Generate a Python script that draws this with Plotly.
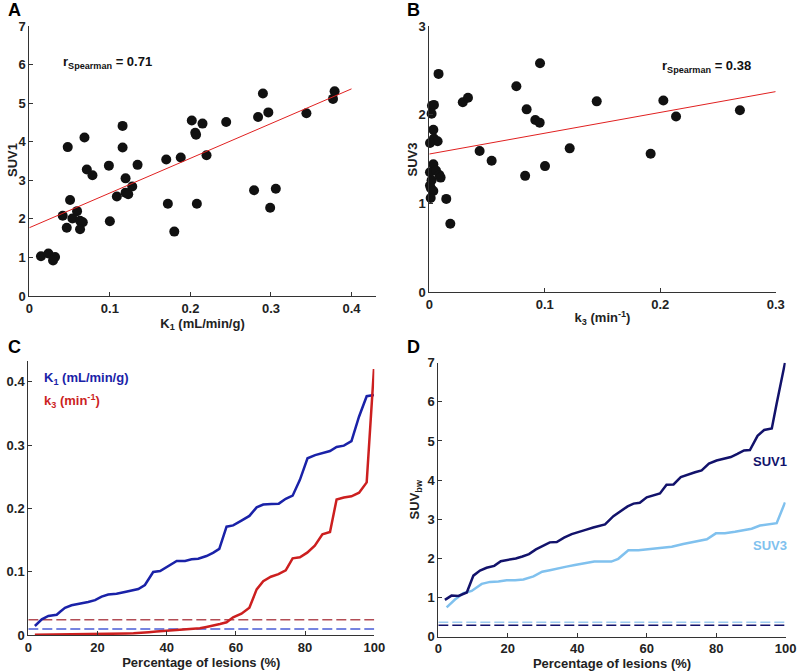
import plotly.graph_objects as go
from plotly.subplots import make_subplots

# --- A: K1 vs SUV1 ---
a_k1 = [0.0145, 0.0237, 0.032, 0.0295, 0.0415, 0.0465, 0.0477, 0.0506, 0.0535, 0.0593,
        0.063, 0.0664, 0.063, 0.0685, 0.0714, 0.0784, 0.0988, 0.100, 0.1087, 0.1158,
        0.1158, 0.1195, 0.1195, 0.1228, 0.1278, 0.1344, 0.170, 0.172, 0.180, 0.188,
        0.2017, 0.206, 0.207, 0.208, 0.215, 0.220, 0.2444, 0.279, 0.284, 0.290,
        0.2967, 0.299, 0.306, 0.344, 0.377, 0.379]
a_suv1 = [1.03, 1.10, 1.01, 0.92, 2.08, 1.77, 3.86, 2.49, 2.01, 2.20,
          1.95, 1.91, 1.73, 4.11, 3.28, 3.13, 3.38, 1.94, 2.58, 4.41,
          3.85, 3.05, 2.68, 2.64, 2.84, 3.40, 3.54, 2.39, 1.67, 3.59,
          4.55, 4.23, 4.18, 2.39, 4.47, 3.65, 4.51, 2.74, 4.64, 5.25,
          4.76, 2.29, 2.78, 4.74, 5.11, 5.31]
a_fit_x = [0, 0.4]
a_fit_y = [1.77, 5.37]

# --- B: k3 vs SUV3 ---
b_k3 = [0.008, 0.0959, 0.0754, 0.029, 0.0335, 0.0023, 0.004, 0.002, 0.0035, 0.004,
        0.0072, 0.0006, 0.0843, 0.0918, 0.0956, 0.145, 0.2027, 0.2137, 0.269, 0.0436,
        0.054, 0.1216, 0.1917, 0.1002, 0.083, 0.0035, 0.0006, 0.0058, 0.002, 0.0087,
        0.0098, 0.0006, 0.0014, 0.0035, 0.0012, 0.0147, 0.0182]
b_suv3 = [2.46, 2.58, 2.32, 2.14, 2.19, 2.10, 2.11, 2.01, 1.83, 1.73,
          1.70, 1.68, 2.06, 1.94, 1.91, 2.15, 2.16, 1.98, 2.05, 1.59,
          1.48, 1.62, 1.56, 1.42, 1.31, 1.44, 1.35, 1.37, 1.26, 1.32,
          1.29, 1.20, 1.17, 1.14, 1.06, 1.05, 0.77]
b_fit_x = [0, 0.3]
b_fit_y = [1.556, 2.26]

# --- C: sorted kinetic parameters ---
c_k1_pct = [1.9, 3.9, 5.8, 8.2, 9.2, 10.6, 12.5, 14.9, 17.3, 19.3, 21.2, 23.1, 25.5, 27.9,
            29.9, 31.8, 33.7, 36.1, 38.1, 40.5, 42.9, 45.3, 47.2, 49.1, 51.5, 53.5, 55.2,
            57.3, 59.2, 61.6, 63.9, 66.0, 67.9, 70.3, 72.4, 74.4, 76.4, 78.5, 80.7, 82.9,
            85.1, 87.2, 89.1, 91.2, 93.4, 95.6, 97.8, 99.9]
c_k1 = [0.0142, 0.0247, 0.030, 0.032, 0.0368, 0.043, 0.047, 0.049, 0.052, 0.055, 0.0605,
        0.064, 0.065, 0.068, 0.070, 0.0726, 0.079, 0.0995, 0.101, 0.109, 0.117, 0.117,
        0.1195, 0.1205, 0.1247, 0.130, 0.136, 0.171, 0.173, 0.1805, 0.188, 0.2016, 0.206,
        0.207, 0.2074, 0.215, 0.220, 0.245, 0.279, 0.284, 0.287, 0.2905, 0.297, 0.299,
        0.306, 0.345, 0.377, 0.379]
c_k3_pct = [1.9, 4.3, 6.5, 8.7, 10.9, 13.0, 15.2, 17.4, 19.6, 21.7, 23.9, 26.1, 28.3, 30.4,
            32.6, 34.8, 37.0, 39.1, 41.3, 43.5, 45.7, 47.8, 49.6, 51.5, 53.5, 55.4, 57.3,
            59.2, 61.6, 63.9, 66.0, 67.9, 70.1, 72.3, 74.4, 76.4, 78.5, 80.6, 82.8, 85.0,
            87.2, 89.1, 91.2, 93.4, 95.6, 97.8, 99.9]
c_k3 = [0.0002, 0.0003, 0.0004, 0.0005, 0.0007, 0.0009, 0.001, 0.0012, 0.0014, 0.0016,
        0.0018, 0.002, 0.0023, 0.0026, 0.003, 0.0045, 0.0055, 0.0063, 0.0068, 0.0072,
        0.008, 0.0092, 0.0105, 0.0126, 0.0147, 0.0174, 0.020, 0.028, 0.0337, 0.043,
        0.072, 0.085, 0.092, 0.096, 0.102, 0.121, 0.1226, 0.130, 0.141, 0.159, 0.1626,
        0.214, 0.217, 0.219, 0.2247, 0.241, 0.420]
c_k1_limit = 0.0095
c_k3_limit = 0.0242

# --- D: sorted SUVs ---
d_suv1_pct = [1.9, 3.8, 5.8, 8.2, 10.1, 12.0, 13.9, 16.1, 18.0, 20.2, 22.3, 24.2, 26.1, 28.1,
              30.2, 32.1, 34.1, 36.2, 38.4, 40.3, 42.4, 44.6, 46.5, 48.0, 50.4, 52.5, 54.5,
              56.2, 58.0, 60.0, 61.9, 63.8, 65.7, 67.7, 69.8, 72.0, 73.9, 75.8, 77.9, 80.1,
              82.2, 84.2, 86.1, 88.0, 89.7, 91.9, 93.8, 96.0, 97.4, 99.8]
d_suv1 = [0.94, 1.05, 1.04, 1.13, 1.56, 1.69, 1.76, 1.81, 1.93, 1.96, 2.00, 2.05, 2.11,
          2.23, 2.32, 2.41, 2.42, 2.53, 2.62, 2.68, 2.73, 2.79, 2.84, 2.87, 3.08, 3.22,
          3.33, 3.40, 3.42, 3.56, 3.61, 3.66, 3.88, 3.89, 4.08, 4.15, 4.20, 4.25, 4.42,
          4.50, 4.54, 4.59, 4.67, 4.76, 4.77, 5.13, 5.28, 5.32, 5.96, 7.0]
d_suv3_pct = [2.4, 4.8, 7.2, 9.6, 12.5, 14.9, 17.3, 19.7, 22.1, 24.5, 27.4, 29.9, 32.1, 34.5,
              36.9, 39.3, 42.2, 44.9, 47.5, 49.8, 51.8, 54.7, 57.6, 60.5, 63.8, 67.2, 70.5,
              73.9, 77.3, 79.9, 82.5, 85.4, 87.8, 90.2, 92.6, 95.0, 97.4, 99.8]
d_suv3 = [0.75, 0.95, 1.11, 1.17, 1.35, 1.40, 1.41, 1.44, 1.44, 1.46, 1.54, 1.66, 1.70,
          1.75, 1.79, 1.83, 1.87, 1.92, 1.92, 1.92, 1.99, 2.21, 2.21, 2.24, 2.27, 2.30,
          2.37, 2.43, 2.49, 2.64, 2.64, 2.68, 2.72, 2.76, 2.84, 2.87, 2.90, 3.43]
d_suv1_limit = 0.29
d_suv3_limit = 0.37

FONT = "Liberation Sans, Arial, sans-serif"
BLUE = "#1a22a8"
RED = "#cc1f1f"
NAVY = "#12126b"
LIGHT = "#80c1ee"

fig = make_subplots(rows=2, cols=2)

# A
fig.add_trace(go.Scatter(x=a_k1, y=a_suv1, mode='markers', cliponaxis=False,
                         marker=dict(color='#111111', size=10)), row=1, col=1)
fig.add_trace(go.Scatter(x=a_fit_x, y=a_fit_y, mode='lines',
                         line=dict(color='#e02020', width=1)), row=1, col=1)
# B
fig.add_trace(go.Scatter(x=b_k3, y=b_suv3, mode='markers', cliponaxis=False,
                         marker=dict(color='#111111', size=10)), row=1, col=2)
fig.add_trace(go.Scatter(x=b_fit_x, y=b_fit_y, mode='lines',
                         line=dict(color='#e02020', width=1)), row=1, col=2)
# C
fig.add_trace(go.Scatter(x=[0, 100], y=[c_k3_limit] * 2, mode='lines',
                         line=dict(color='#b34d55', width=1.5, dash='10px,4px')), row=2, col=1)
fig.add_trace(go.Scatter(x=[0, 100], y=[c_k1_limit] * 2, mode='lines',
                         line=dict(color='#4a5cd6', width=1.5, dash='10px,4px')), row=2, col=1)
fig.add_trace(go.Scatter(x=c_k1_pct, y=c_k1, mode='lines',
                         line=dict(color=BLUE, width=2.5)), row=2, col=1)
fig.add_trace(go.Scatter(x=c_k3_pct, y=c_k3, mode='lines', cliponaxis=False,
                         line=dict(color=RED, width=2.5)), row=2, col=1)
# D
fig.add_trace(go.Scatter(x=[0, 100], y=[d_suv3_limit] * 2, mode='lines',
                         line=dict(color='#9ccbf0', width=1.5, dash='10px,4px')), row=2, col=2)
fig.add_trace(go.Scatter(x=[0, 100], y=[d_suv1_limit] * 2, mode='lines',
                         line=dict(color=NAVY, width=1.5, dash='10px,4px')), row=2, col=2)
fig.add_trace(go.Scatter(x=d_suv3_pct, y=d_suv3, mode='lines',
                         line=dict(color=LIGHT, width=2.5)), row=2, col=2)
fig.add_trace(go.Scatter(x=d_suv1_pct, y=d_suv1, mode='lines', cliponaxis=False,
                         line=dict(color=NAVY, width=2.5)), row=2, col=2)

W, H = 797, 672
def xdom(a, b):
    return [a / W, b / W]
def ydom(top, bottom):
    return [1 - bottom / H, 1 - top / H]
def px(x):
    return x / W
def py(y):
    return 1 - y / H

axis_style = dict(showline=True, linecolor='#333333', linewidth=1, mirror=False,
                  ticks='inside', ticklen=4, tickcolor='#333333', showgrid=False,
                  zeroline=False, automargin=False,
                  tickfont=dict(family=FONT, size=13, color='#222222', weight='bold'),
                  title_font=dict(family=FONT, size=13, color='#222222', weight='bold'))
fig.update_xaxes(**axis_style)
fig.update_yaxes(**axis_style)

fig.update_xaxes(domain=xdom(29.3, 375.7), range=[0, 0.43], tickvals=[0, 0.1, 0.2, 0.3, 0.4],
                 title_text='K<sub>1</sub> (mL/min/g)', title_standoff=2, row=1, col=1)
fig.update_yaxes(domain=ydom(26, 296), range=[0, 7], dtick=1, row=1, col=1)
fig.update_xaxes(domain=xdom(429.3, 775.7), range=[0, 0.3], dtick=0.1,
                 title_text='k<sub>3</sub> (min<sup>-1</sup>)', title_standoff=2, row=1, col=2)
fig.update_yaxes(domain=ydom(26, 292), range=[0, 3], dtick=1, row=1, col=2)
fig.update_xaxes(domain=xdom(28.3, 374.3), range=[0, 100], dtick=20,
                 title_text='Percentage of lesions (%)', title_standoff=2, row=2, col=1)
fig.update_yaxes(domain=ydom(361.4, 635), range=[0, 0.432], tickvals=[0, 0.1, 0.2, 0.3, 0.4],
                 row=2, col=1)
fig.update_xaxes(domain=xdom(438.3, 785.7), range=[0, 100], dtick=20,
                 title_text='Percentage of lesions (%)', title_standoff=2, row=2, col=2)
fig.update_yaxes(domain=ydom(362.7, 636.7), range=[0, 7], dtick=1,
                 title_text='SUV<sub>bw</sub>', title_standoff=4, row=2, col=2)

txt = dict(family=FONT, size=13, color='#111111', weight='bold')
ytitle = dict(family=FONT, size=13, color='#222222', weight='bold')
letter = dict(family=FONT, size=18, color='#000000', weight='bold')
annotations = [
    dict(text='A', x=px(6), y=py(9.5), xref='paper', yref='paper', xanchor='left', yanchor='middle', font=letter, showarrow=False),
    dict(text='B', x=px(405), y=py(9.5), xref='paper', yref='paper', xanchor='left', yanchor='middle', font=letter, showarrow=False),
    dict(text='C', x=px(6), y=py(346.5), xref='paper', yref='paper', xanchor='left', yanchor='middle', font=letter, showarrow=False),
    dict(text='D', x=px(405), y=py(346.5), xref='paper', yref='paper', xanchor='left', yanchor='middle', font=letter, showarrow=False),
    dict(text='SUV1', x=px(12), y=py(160), xref='paper', yref='paper', xanchor='center', yanchor='middle', textangle=-90, font=ytitle, showarrow=False),
    dict(text='SUV3', x=px(411.5), y=py(160), xref='paper', yref='paper', xanchor='center', yanchor='middle', textangle=-90, font=ytitle, showarrow=False),
    dict(text='r<sub>Spearman</sub> = 0.71', x=0.039, y=6.05, xref='x', yref='y', xanchor='left', yanchor='middle', font=txt, showarrow=False),
    dict(text='r<sub>Spearman</sub> = 0.38', x=0.2, y=2.545, xref='x2', yref='y2', xanchor='left', yanchor='middle', font=txt, showarrow=False),
    dict(text='K<sub>1</sub> (mL/min/g)', x=3.9, y=0.405, xref='x3', yref='y3', xanchor='left', yanchor='middle', font=dict(txt, color=BLUE), showarrow=False),
    dict(text='k<sub>3</sub> (min<sup>-1</sup>)', x=4.1, y=0.37, xref='x3', yref='y3', xanchor='left', yanchor='middle', font=dict(txt, color=RED), showarrow=False),
    dict(text='SUV1', x=100, y=4.47, xref='x4', yref='y4', xanchor='right', yanchor='middle', xshift=3, font=dict(txt, color=NAVY), showarrow=False),
    dict(text='SUV3', x=100, y=2.34, xref='x4', yref='y4', xanchor='right', yanchor='middle', xshift=3, font=dict(txt, color=LIGHT), showarrow=False),
]

fig.update_layout(
    width=W, height=H,
    margin=dict(l=0, r=0, t=0, b=0),
    paper_bgcolor='white', plot_bgcolor='white',
    showlegend=False,
    annotations=annotations,
)

# drop the default page margin so the 797x672 figure fills the window exactly
fig.write_html("out.html", config={'displayModeBar': False},
               post_script="document.body.style.margin='0';document.body.style.overflow='hidden';")
